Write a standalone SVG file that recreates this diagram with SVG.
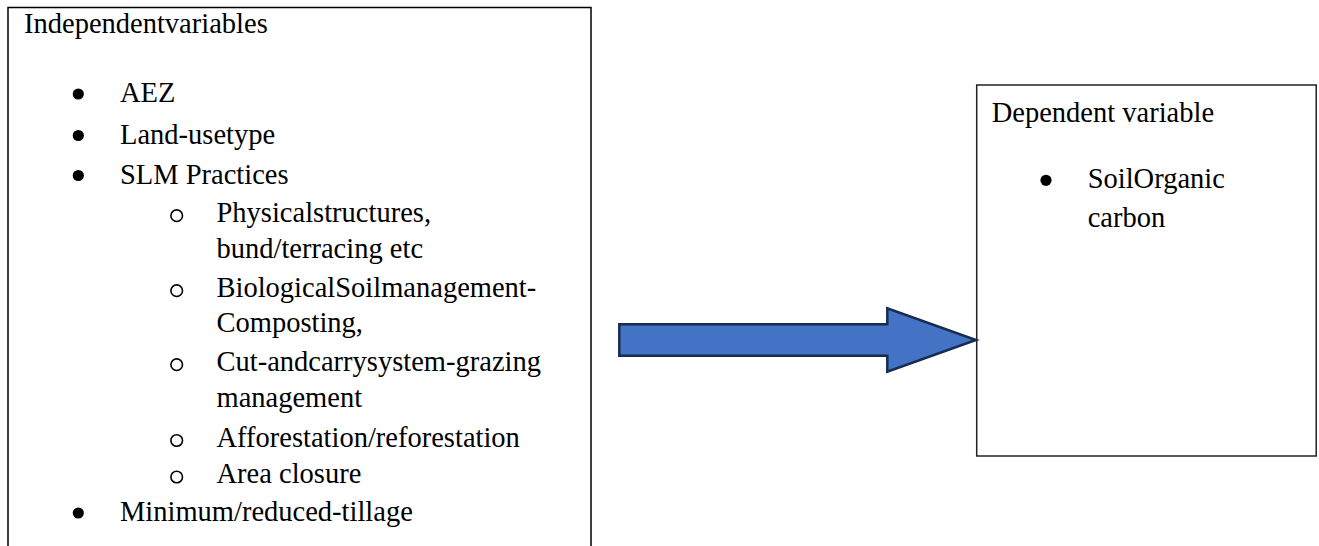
<svg xmlns="http://www.w3.org/2000/svg" width="1319" height="546" viewBox="0 0 1319 546">
<style>
.t{font-size:28.5px;fill:#000}
.box{fill:#fff;stroke:#000;stroke-width:1.5}
.dot{fill:#000}
.ring{fill:none;stroke:#000;stroke-width:1.6}
.arrow{fill:#4472C4;stroke:#172C51;stroke-width:2.5;stroke-linejoin:miter}
</style>
<rect width="1319" height="546" fill="#fff"/>
<g id="independent" font-family="Liberation Serif, Times New Roman, serif">
<rect class="box" x="8" y="7.5" width="583" height="580"/>
<text class="t" x="24" y="33">Independentvariables</text>
<circle class="dot" cx="78.3" cy="94" r="5.6"/>
<text class="t" x="120" y="102">AEZ</text>
<circle class="dot" cx="78.3" cy="135.5" r="5.6"/>
<text class="t" x="120" y="143.5">Land-usetype</text>
<circle class="dot" cx="78.3" cy="175.5" r="5.6"/>
<text class="t" x="120" y="183.5">SLM Practices</text>
<circle class="ring" cx="176.7" cy="215.7" r="5.8"/>
<text class="t" x="216.5" y="222">Physicalstructures,</text>
<text class="t" x="216.5" y="257.5">bund/terracing etc</text>
<circle class="ring" cx="176.7" cy="290.7" r="5.8"/>
<text class="t" x="216.5" y="297">BiologicalSoilmanagement-</text>
<text class="t" x="216.5" y="332">Composting,</text>
<circle class="ring" cx="176.7" cy="364.7" r="5.8"/>
<text class="t" x="216.5" y="371">Cut-andcarrysystem-grazing</text>
<text class="t" x="216.5" y="407">management</text>
<circle class="ring" cx="176.7" cy="440.5" r="5.8"/>
<text class="t" x="216.5" y="446.8">Afforestation/reforestation</text>
<circle class="ring" cx="176.7" cy="477" r="5.8"/>
<text class="t" x="216.5" y="483.3">Area closure</text>
<circle class="dot" cx="78.3" cy="513" r="5.6"/>
<text class="t" x="120" y="521">Minimum/reduced-tillage</text>
</g>
<g id="dependent" font-family="Liberation Serif, Times New Roman, serif">
<rect class="box" x="976.7" y="85" width="339.5" height="371" style="stroke:#222"/>
<text class="t" x="991.7" y="121.7">Dependent variable</text>
<circle class="dot" cx="1046" cy="180.3" r="5.6"/>
<text class="t" x="1087.7" y="188.3">SoilOrganic</text>
<text class="t" x="1087.7" y="226.7">carbon</text>
</g>
<g id="connectors">
<polygon class="arrow" points="619.3,324.3 887.3,324.3 887.3,308.3 976,340 887.3,371.7 887.3,355.7 619.3,355.7"/>
</g>
</svg>
